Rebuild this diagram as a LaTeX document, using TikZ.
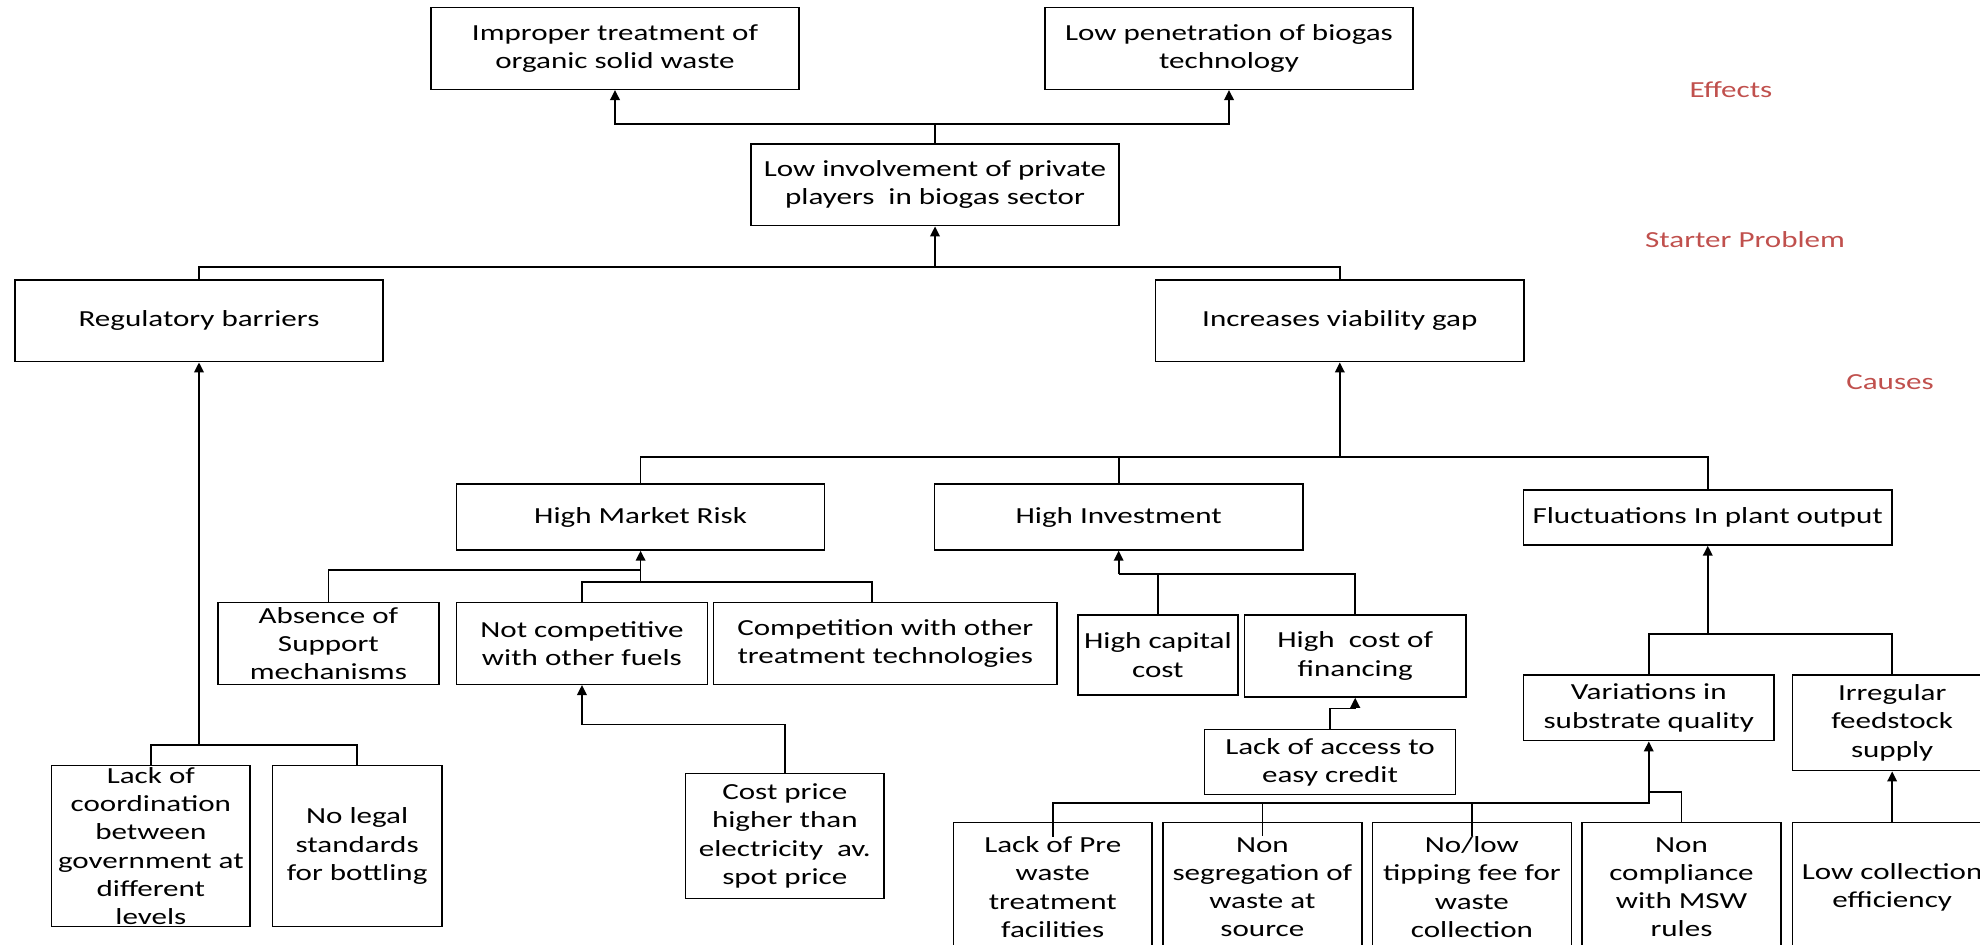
\documentclass[tikz,border=0pt]{standalone}
\usepackage{fontspec}
\setmainfont{Carlito}[FakeStretch=1.35]
\usetikzlibrary{arrows.meta}
\definecolor{lblred}{RGB}{192,80,77}
\newcommand\bx[6]{\node[box, minimum width={(#4-#2)*0.5pt}, minimum height={(#5-#3)*0.5pt}] (#1) at ({(#2+#4)/2},{(#3+#5)/2}) {#6};}
\begin{document}
\begin{tikzpicture}[x=0.5pt,y=-0.5pt,
  box/.style={draw=black, line width=0.75pt, inner sep=0pt, align=center, font=\fontsize{11.5}{14.1}\selectfont},
  conn/.style={line width=0.85pt},
  arr/.style={conn, -{Triangle[length=5pt,width=4.8pt]}},
  lbl/.style={text=lblred, font=\fontsize{11.5}{14.1}\selectfont, inner sep=0pt}]
\useasboundingbox (0,0) rectangle (1980,945);
\clip (0,0) rectangle (1980,945);
% boxes
\bx{imp}{431}{7.3}{799}{89.3}{Improper treatment of\\organic solid waste}
\bx{pen}{1045}{7.3}{1413}{89.3}{Low penetration of biogas\\technology}
\bx{inv}{751}{144}{1119}{225.7}{Low involvement of private\\players~ in biogas sector}
\bx{reg}{15}{280}{383}{361.7}{Regulatory barriers}
\bx{via}{1155.6}{280}{1524}{361.7}{Increases viability gap}
\bx{hmr}{456.6}{484}{824.6}{550}{High Market Risk}
\bx{hinv}{934.5}{484}{1302.8}{550}{High Investment}
\bx{flu}{1523.7}{490}{1891.8}{545}{Fluctuations In plant output}
\bx{abs}{218}{602.7}{438.8}{684.3}{Absence of\\Support\\mechanisms}
\bx{ncf}{456.6}{602.7}{707.3}{684.3}{Not competitive\\with other fuels}
\bx{cwt}{713.6}{602.7}{1057}{684.3}{Competition with other\\treatment technologies}
\bx{hcc}{1078}{615}{1237.8}{695}{High capital\\cost}
\bx{hcf}{1244.4}{615}{1466}{697}{High~ cost of\\financing}
\bx{lac}{1204.6}{729.3}{1455.4}{794.7}{Lack of access to\\easy credit}
\bx{vsq}{1523.5}{675}{1774}{740.7}{Variations in\\substrate quality}
\bx{ifs}{1792.3}{675}{1992}{770.7}{Irregular\\feedstock\\supply}
\bx{lcg}{51.7}{765.5}{250}{926.7}{Lack of\\coordination\\between\\government at\\different\\levels}
\bx{nls}{272.3}{765.5}{442}{926.7}{No legal\\standards\\for bottling}
\bx{cpr}{685.6}{773.3}{884}{898.7}{Cost price\\higher than\\electricity~ av.\\spot price}
\bx{lpw}{953.3}{822.3}{1152.2}{952}{Lack of Pre\\waste\\treatment\\facilities}
\bx{nsw}{1162.9}{822.3}{1361.8}{952}{Non\\segregation of\\waste at\\source}
\bx{nlt}{1372.4}{822.3}{1571.4}{952}{No/low\\tipping fee for\\waste\\collection}
\bx{ncm}{1582}{822.3}{1781}{952}{Non\\compliance\\with MSW\\rules}
\bx{lce}{1792.3}{822.3}{1992}{952}{Low collection\\efficiency}
% labels
\node[lbl] (leff) at (1731,90) {Effects};
\node[lbl] (lsp) at (1745,240) {Starter Problem};
\node[lbl] (lcau) at (1890,382) {Causes};
% junction points
\coordinate (j1) at (935,123.7);
\coordinate (j2) at (935,266.7);
\coordinate (j3) at (1339.8,457);
\coordinate (j4) at (199,745);
\coordinate (j5) at (640.6,582);
\coordinate (j5a) at (640.6,570);
\coordinate (j6) at (1118.65,574.3);
\coordinate (j7) at (1707.75,634);
\coordinate (j8) at (1648.75,803);
\coordinate (j9) at (1648.75,791.7);
% connectors
\draw[conn] (inv.north) -- (j1);
\draw[arr] (j1) -| (imp.south);
\draw[arr] (j1) -| (pen.south);
\draw[arr] (j2) -- (inv.south);
\draw[conn] (reg.north) |- (j2) -| (via.north);
\draw[arr] (j3) -- (via.south);
\draw[conn] (hmr.north) |- (j3) -| (flu.north);
\draw[conn] (hinv.north) -- (hinv.north |- j3);
\draw[arr] (j4) -- (reg.south);
\draw[conn] (lcg.north) |- (j4) -| (nls.north);
\draw[arr] (j5) -- (hmr.south);
\draw[conn] (ncf.north) |- (j5) -| ([xshift=-6.65pt]cwt.north);
\draw[conn] (abs.north) |- (j5a);
\draw[arr] (cpr.north) -- ++(0,-48) -| (ncf.south);
\draw[arr] (j6) -- (hinv.south);
\draw[conn] (j6) -| (hcf.north);
\draw[conn] (hcc.north) -- (hcc.north |- j6);
\draw[arr] (lac.north) -- ++(0,-20) -| (hcf.south);
\draw[arr] (j7) -- (flu.south);
\draw[conn] (vsq.north) |- (j7) -| (ifs.north);
\draw[arr] (lce.north) -- (ifs.south);
\draw[arr] ([yshift=-7.5pt]lpw.north) |- (j8) -- (vsq.south);
\draw[conn] ([yshift=-7pt]nsw.north) -- (nsw.north |- j8);
\draw[conn] ([yshift=-7pt]nlt.north) -- (nlt.north |- j8);
\draw[conn] (ncm.north) |- (j9);
\end{tikzpicture}
\end{document}
